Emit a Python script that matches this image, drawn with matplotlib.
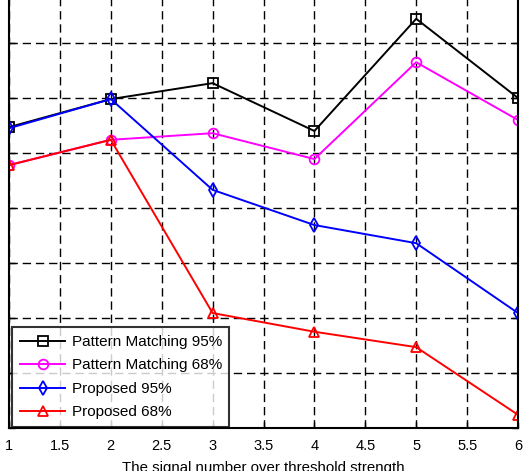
import matplotlib
matplotlib.use('Agg')
import matplotlib.pyplot as plt
import numpy as np

x = [1, 2, 3, 4, 5, 6]
pm95 = [5.47, 5.98, 6.27, 5.40, 7.44, 6.00]
pm68 = [4.78, 5.24, 5.36, 4.89, 6.65, 5.60]
prop95 = [5.45, 5.98, 4.33, 3.69, 3.36, 2.09]
prop68 = [4.78, 5.24, 2.09, 1.75, 1.47, 0.24]
labels = ['Pattern Matching 95%', 'Pattern Matching 68%', 'Proposed 95%', 'Proposed 68%']
xticks = [1, 1.5, 2, 2.5, 3, 3.5, 4, 4.5, 5, 5.5, 6]

plt.rcParams['font.family'] = ['Liberation Sans', 'DejaVu Sans']

fig = plt.figure(figsize=(5.27, 4.71), dpi=100)
ax = fig.add_axes([9/527, 43/471, 509/527, 440/471])

ax.plot(x, pm95, color='black', marker='s', mfc='none', ms=6.5, lw=1.4, mew=1.3, label=labels[0])
ax.plot(x, pm68, color='#ff00ff', marker='o', mfc='none', ms=7, lw=1.4, mew=1.3, label=labels[1])
ax.plot(x, prop95, color='#0000ff', marker='d', mfc='none', ms=7.5, lw=1.4, mew=1.3, label=labels[2])
ax.plot(x, prop68, color='#ff0000', marker='^', mfc='none', ms=7.5, lw=1.4, mew=1.3, label=labels[3])

ax.set_xlim(1, 6)
ax.set_ylim(0, 8)
ax.set_xticks(xticks)
ax.set_xticklabels(['1', '1.5', '2', '2.5', '3', '3.5', '4', '4.5', '5', '5.5', '6'], fontsize=10.5)
ax.set_yticks(np.arange(0, 9, 1))
ax.set_yticklabels([])
ax.tick_params(direction='in', length=4, width=1, top=True, right=True, pad=8)
ax.grid(True, color='black', linestyle=(0, (6, 3.5)), linewidth=1)
for s in ax.spines.values():
    s.set_linewidth(1.5)

ax.set_xlabel('The signal number over threshold strength', fontsize=10.8, labelpad=6)

leg = ax.legend(loc='lower left', bbox_to_anchor=(3/509, 1/440), borderaxespad=0,
                fontsize=11, frameon=True, fancybox=False, edgecolor='black',
                handlelength=3.0, handletextpad=0.4, labelspacing=0.62, borderpad=0.5)
leg.get_frame().set_linewidth(1.5)

fig.savefig('out.png', dpi=100)
